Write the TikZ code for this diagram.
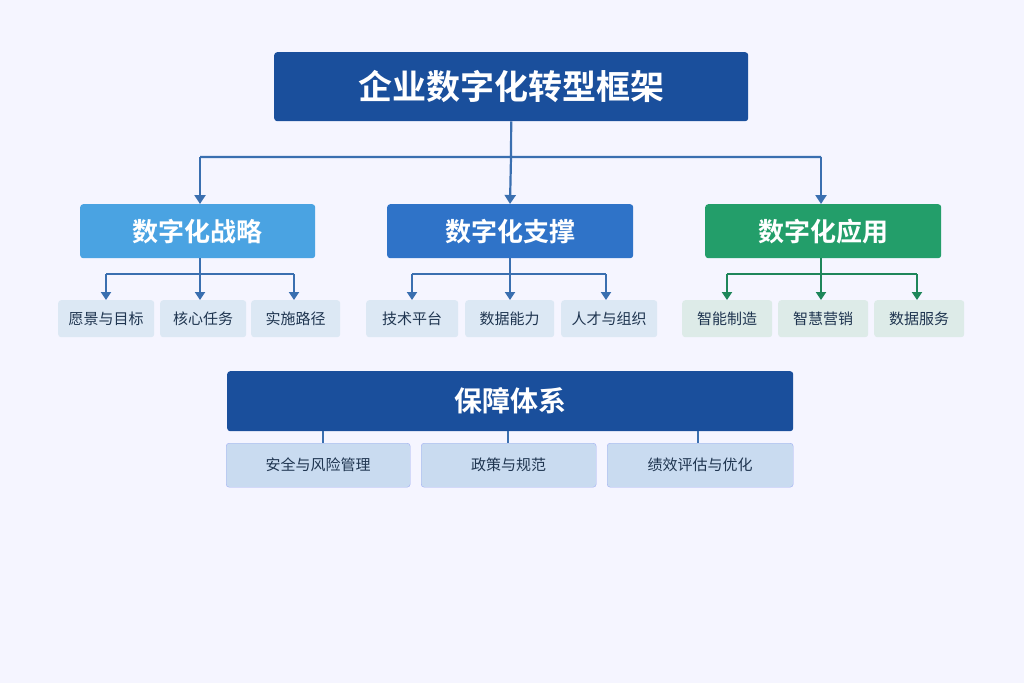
\documentclass[tikz,border=0pt]{standalone}
\usepackage{fontspec}
\setmainfont{Noto Sans CJK SC}
\newfontfamily\cjkb{Noto Sans CJK SC Bold}
\usetikzlibrary{arrows.meta}
\definecolor{dk}{HTML}{1A4F9C}
\definecolor{lb}{HTML}{4AA3E2}
\definecolor{mb}{HTML}{2F73C8}
\definecolor{gr}{HTML}{239E6A}
\definecolor{lf}{HTML}{DCE8F4}
\definecolor{lg}{HTML}{DDEBE8}
\definecolor{bl}{HTML}{C9DBF0}
\definecolor{ln}{HTML}{3A6FB0}
\definecolor{tx}{HTML}{1F3550}
\begin{document}
\begin{tikzpicture}[x=1pt,y=-1pt,
 box/.style={draw=none,rounded corners=3pt,inner sep=0pt},
 leaf/.style={box,fill=lf,font=\fontsize{15}{15}\selectfont,text=tx},
 gleaf/.style={box,fill=lg,font=\fontsize{15}{15}\selectfont,text=tx},
 bleaf/.style={box,fill=bl,draw=bl!80!blue,font=\fontsize{15}{15}\selectfont,text=tx},
 con/.style={draw=ln,line width=2.2pt,-{Triangle[length=9pt,width=11pt]}},
 gcon/.style={draw=gr!85!black,line width=2pt,-{Triangle[length=8pt,width=10pt]}},
 scon/.style={draw=ln,line width=2pt,-{Triangle[length=8pt,width=10pt]}},
]
\fill[white!96!blue] (0,0) rectangle (1024,683);
\useasboundingbox (0,0) rectangle (1024,683);
\newcommand\bx[6]{\node[#1,minimum width=#4-#2,minimum height=#5-#3,anchor=north west] (#6) at (#2,#3) {};}
% title
\node[box,fill=dk,text=white,minimum width=474,minimum height=69,anchor=north west,font=\cjkb\fontsize{34}{34}\selectfont] (T) at (274,52) {企业数字化转型框架};
% mid
\node[box,fill=lb,text=white,minimum width=235,minimum height=54,anchor=north west,font=\cjkb\fontsize{26}{26}\selectfont] (A) at (80,204) {数字化战略};
\node[box,fill=mb,text=white,minimum width=246,minimum height=54,anchor=north west,font=\cjkb\fontsize{26}{26}\selectfont] (B) at (387,204) {数字化支撑};
\node[box,fill=gr,text=white,minimum width=236,minimum height=54,anchor=north west,font=\cjkb\fontsize{26}{26}\selectfont] (C) at (705,204) {数字化应用};
\coordinate (h) at (511,157);
\draw[draw=ln,line width=2.2pt] (T.south) -- (h) (200,157) -- (821,157);
\draw[con] (200,157) -- (A.north-|200,0);
\draw[con] (h) -- (A.north-|510,0);
\draw[con] (821,157) -- (C.north-|821,0);
% leaves
\node[leaf,minimum width=96,minimum height=37,anchor=north west] (a1) at (58,300) {愿景与目标};
\node[leaf,minimum width=86,minimum height=37,anchor=north west] (a2) at (160,300) {核心任务};
\node[leaf,minimum width=89,minimum height=37,anchor=north west] (a3) at (251,300) {实施路径};
\node[leaf,minimum width=92,minimum height=37,anchor=north west] (b1) at (366,300) {技术平台};
\node[leaf,minimum width=89,minimum height=37,anchor=north west] (b2) at (465,300) {数据能力};
\node[leaf,minimum width=96,minimum height=37,anchor=north west] (b3) at (561,300) {人才与组织};
\node[gleaf,minimum width=90,minimum height=37,anchor=north west] (c1) at (682,300) {智能制造};
\node[gleaf,minimum width=90,minimum height=37,anchor=north west] (c2) at (778,300) {智慧营销};
\node[gleaf,minimum width=90,minimum height=37,anchor=north west] (c3) at (874,300) {数据服务};
\draw[ln,line width=2pt] (A.south-|200,0) -- (200,274) (106,274) -- (294,274);
\draw[scon] (106,274) -- (a1.north-|106,0);
\draw[scon] (200,274) -- (a2.north-|200,0);
\draw[scon] (294,274) -- (a3.north-|294,0);
\draw[ln,line width=2pt] (B.south-|510,0) -- (510,274) (412,274) -- (606,274);
\draw[scon] (412,274) -- (b1.north-|412,0);
\draw[scon] (510,274) -- (b2.north-|510,0);
\draw[scon] (606,274) -- (b3.north-|606,0);
\draw[gr!85!black,line width=2pt] (C.south-|821,0) -- (821,274) (727,274) -- (917,274);
\draw[gcon] (727,274) -- (c1.north-|727,0);
\draw[gcon] (821,274) -- (c2.north-|821,0);
\draw[gcon] (917,274) -- (c3.north-|917,0);
% bottom
\node[box,fill=dk,text=white,minimum width=566,minimum height=60,anchor=north west,font=\cjkb\fontsize{28}{28}\selectfont] (D) at (227,371) {保障体系};
\node[bleaf,minimum width=184,minimum height=44,anchor=north west] (d1) at (226,443) {安全与风险管理};
\node[bleaf,minimum width=175,minimum height=44,anchor=north west] (d2) at (421,443) {政策与规范};
\node[bleaf,minimum width=186,minimum height=44,anchor=north west] (d3) at (607,443) {绩效评估与优化};
\draw[ln,line width=2pt] (D.south-|323,0) -- (d1.north-|323,0);
\draw[ln,line width=2pt] (D.south-|508,0) -- (d2.north-|508,0);
\draw[ln,line width=2pt] (D.south-|698,0) -- (d3.north-|698,0);
\end{tikzpicture}
\end{document}
